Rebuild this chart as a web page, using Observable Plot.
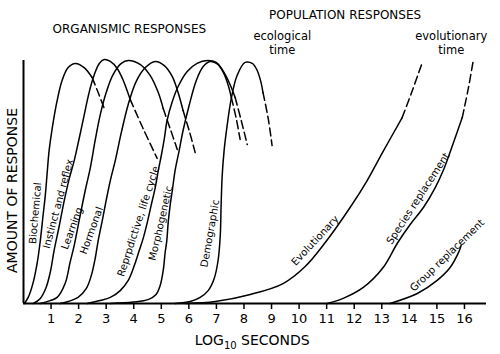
<!DOCTYPE html>
<html>
<head>
<meta charset="utf-8">
<script src="https://cdn.jsdelivr.net/npm/d3@7"></script>
<script src="https://cdn.jsdelivr.net/npm/@observablehq/plot@0.6"></script>
<style>
  html, body { margin: 0; padding: 0; background: #fff; }
</style>
</head>
<body>
<div id="chart"></div>
<script>
// ---- Data (x = log10 seconds, y = relative amount of response) ----
const biochemical = [[0.03,0],[0.17,0.025],[0.35,0.086],[0.50,0.169],[0.61,0.259],[0.71,0.362],[0.79,0.444],[0.86,0.539],[0.93,0.630],[1.04,0.720],[1.22,0.835],[1.40,0.918],[1.62,0.971],[1.88,0.988],[2.20,0.971],[2.49,0.930]];
const biochemicalTail = [[2.49,0.930],[2.71,0.868],[2.96,0.794]];

const instinct = [[0.36,0],[0.61,0.021],[0.82,0.066],[0.97,0.128],[1.11,0.218],[1.30,0.321],[1.48,0.424],[1.66,0.514],[1.84,0.588],[2.02,0.679],[2.20,0.774],[2.38,0.868],[2.57,0.942],[2.75,0.988],[2.93,1.004],[3.15,0.996],[3.40,0.967],[3.62,0.918],[3.87,0.840]];
const instinctTail = [[3.87,0.840],[4.34,0.720],[4.85,0.597]];

const learning = [[0.61,0],[0.97,0.012],[1.22,0.025],[1.51,0.082],[1.69,0.169],[1.84,0.239],[2.02,0.342],[2.24,0.465],[2.42,0.556],[2.60,0.671],[2.78,0.774],[3.00,0.868],[3.25,0.942],[3.55,0.988],[3.80,1.0],[4.23,0.984],[4.60,0.938],[4.89,0.868],[5.07,0.802]];
const learningTail = [[5.07,0.802],[5.32,0.720],[5.58,0.634]];

const hormonal = [[1.33,0],[1.62,0.008],[1.98,0.025],[2.28,0.062],[2.46,0.115],[2.60,0.185],[2.71,0.259],[2.86,0.342],[3.00,0.424],[3.15,0.506],[3.33,0.588],[3.55,0.704],[3.80,0.819],[4.09,0.914],[4.42,0.971],[4.78,0.996],[5.11,0.979],[5.40,0.934],[5.61,0.868],[5.79,0.794]];
const hormonalTail = [[5.79,0.794],[6.01,0.712],[6.23,0.621]];

const reproductive = [[2.31,0],[2.78,0.012],[3.15,0.025],[3.51,0.053],[3.80,0.095],[4.02,0.156],[4.20,0.218],[4.34,0.267],[4.49,0.333],[4.63,0.403],[4.78,0.477],[4.89,0.547],[5.00,0.609],[5.11,0.679],[5.21,0.753],[5.40,0.831],[5.61,0.893],[5.94,0.955],[6.30,0.988],[6.67,1.0],[6.99,0.992],[7.25,0.951],[7.43,0.897],[7.54,0.848]];
const reproductiveTail = [[7.54,0.848],[7.72,0.761],[7.86,0.675]];

const morphogenetic = [[3.15,0],[3.98,0.006],[4.52,0.016],[4.81,0.037],[4.96,0.074],[5.07,0.136],[5.14,0.210],[5.20,0.259],[5.25,0.333],[5.32,0.403],[5.40,0.465],[5.50,0.547],[5.65,0.630],[5.79,0.712],[6.01,0.815],[6.27,0.918],[6.52,0.975],[6.77,0.996],[7.06,0.984],[7.32,0.942],[7.54,0.889],[7.68,0.848]];
const morphogeneticTail = [[7.68,0.848],[7.90,0.753],[8.12,0.654]];

const demographic = [[5.50,0],[6.05,0.008],[6.41,0.025],[6.70,0.053],[6.92,0.103],[7.06,0.177],[7.14,0.280],[7.17,0.403],[7.21,0.527],[7.28,0.630],[7.39,0.733],[7.54,0.844],[7.75,0.938],[8.04,0.992],[8.30,0.988],[8.48,0.959],[8.62,0.909],[8.69,0.868]];
const demographicTail = [[8.69,0.868],[8.88,0.761],[9.02,0.650]];

const evolutionary = [[5.87,0],[6.96,0.008],[8.23,0.037],[9.42,0.082],[10.22,0.152],[10.95,0.251],[11.85,0.395],[12.47,0.506],[13.05,0.626],[13.74,0.765]];
const evolutionaryTail = [[13.74,0.765],[14.11,0.877],[14.47,0.992]];

const speciesReplacement = [[11.02,0],[11.60,0.021],[12.33,0.066],[13.05,0.148],[13.56,0.247],[14.03,0.325],[14.51,0.395],[14.94,0.477],[15.23,0.547],[15.59,0.658],[15.92,0.765]];
const speciesReplacementTail = [[15.92,0.765],[16.14,0.885],[16.32,1.0]];

const groupReplacement = [[13.30,0],[14.29,0.041],[15.01,0.095],[15.48,0.148],[15.77,0.206],[15.88,0.239]];

const curveNames = ["Biochemical","Instinct and reflex","Learning","Hormonal","Reprpdictive, life cycle","Morphogenetic","Demographic","Evolutionary","Species replacement","Group replacement"];
const xTickValues = [1,2,3,4,5,6,7,8,9,10,11,12,13,14,15,16];
const titleTexts = ["ORGANISMIC RESPONSES","POPULATION RESPONSES","ecological\ntime","evolutionary\ntime"];
const xLabel = "LOG10 SECONDS";
const yLabel = "AMOUNT OF RESPONSE";

// ---- Build tables ----
const solids = [biochemical,instinct,learning,hormonal,reproductive,morphogenetic,demographic,evolutionary,speciesReplacement,groupReplacement];
const tails = [biochemicalTail,instinctTail,learningTail,hormonalTail,reproductiveTail,morphogeneticTail,demographicTail,evolutionaryTail,speciesReplacementTail,null];

const solidRows = solids.flatMap((pts, i) => pts.map(([x, y]) => ({name: curveNames[i], x, y})));
const tailRows = tails.flatMap((pts, i) => pts ? pts.map(([x, y]) => ({name: curveNames[i], x, y})) : []);

// label placement (layout, in data units) and angles
const labelLayout = [
  {x: 0.43, y: 0.372, angle: -85},
  {x: 1.26, y: 0.410, angle: -75},
  {x: 1.76, y: 0.309, angle: -70},
  {x: 2.47, y: 0.300, angle: -70},
  {x: 4.17, y: 0.338, angle: -72},
  {x: 4.98, y: 0.330, angle: -77},
  {x: 6.77, y: 0.288, angle: -80},
  {x: 10.58, y: 0.259, angle: -47},
  {x: 14.32, y: 0.432, angle: -57},
  {x: 15.37, y: 0.198, angle: -44}
];
const labelRows = curveNames.map((t, i) => ({text: t, ...labelLayout[i]}));

const titleLayout = [
  {x: 3.84, y: 1.132, size: 12},
  {x: 11.67, y: 1.189, size: 12},
  {x: 9.39, y: 1.074, size: 11.5},
  {x: 15.52, y: 1.074, size: 11.5}
];
const titleRows = titleTexts.map((t, i) => ({text: t, ...titleLayout[i]}));

const chart = Plot.plot({
  width: 500,
  height: 354,
  marginTop: 60,
  marginBottom: 51,
  marginLeft: 23,
  marginRight: 14,
  style: {fontFamily: "DejaVu Sans", fontSize: "10.2px", background: "#fff", color: "#000"},
  x: {domain: [0, 16.8]},
  y: {domain: [0, 1], axis: null},
  marks: [
    Plot.axisX({ticks: xTickValues, tickSize: 6, tickPadding: 4, fontSize: 13, label: null, strokeWidth: 1.5, tickFormat: d => String(d)}),
    Plot.ruleY([0], {stroke: "#000", strokeWidth: 2}),
    Plot.ruleX([0], {y1: 0, y2: 1, stroke: "#000", strokeWidth: 2}),
    Plot.line(solidRows, {x: "x", y: "y", z: "name", curve: "catmull-rom", stroke: "#000", strokeWidth: 1.5}),
    Plot.line(tailRows, {x: "x", y: "y", z: "name", curve: "catmull-rom", stroke: "#000", strokeWidth: 1.5, strokeDasharray: "8,4"}),
    Plot.text(labelRows, {x: "x", y: "y", text: "text", rotate: "angle", fontSize: 10.2, fill: "#000"}),
    Plot.text(titleRows, {x: "x", y: "y", text: "text", fontSize: d => d.size, lineHeight: 1.2, fill: "#000"}),
    Plot.text([xLabel], {x: 8.30, y: -0.152, text: d => d, fontSize: 14, fill: "#000"}),
    Plot.text([yLabel], {x: -0.41, y: 0.465, text: d => d, fontSize: 14, rotate: -90, fill: "#000"})
  ]
});

document.getElementById("chart").appendChild(chart);

// subscript "10" in the x label
d3.select(chart).selectAll("text").filter(function() { return this.textContent === xLabel; }).each(function() {
  const t = d3.select(this);
  t.text("");
  t.append("tspan").text("LOG");
  t.append("tspan").attr("font-size", 10).attr("dy", 4).text("10");
  t.append("tspan").attr("dy", -4).text(" SECONDS");
});
</script>
</body>
</html>
